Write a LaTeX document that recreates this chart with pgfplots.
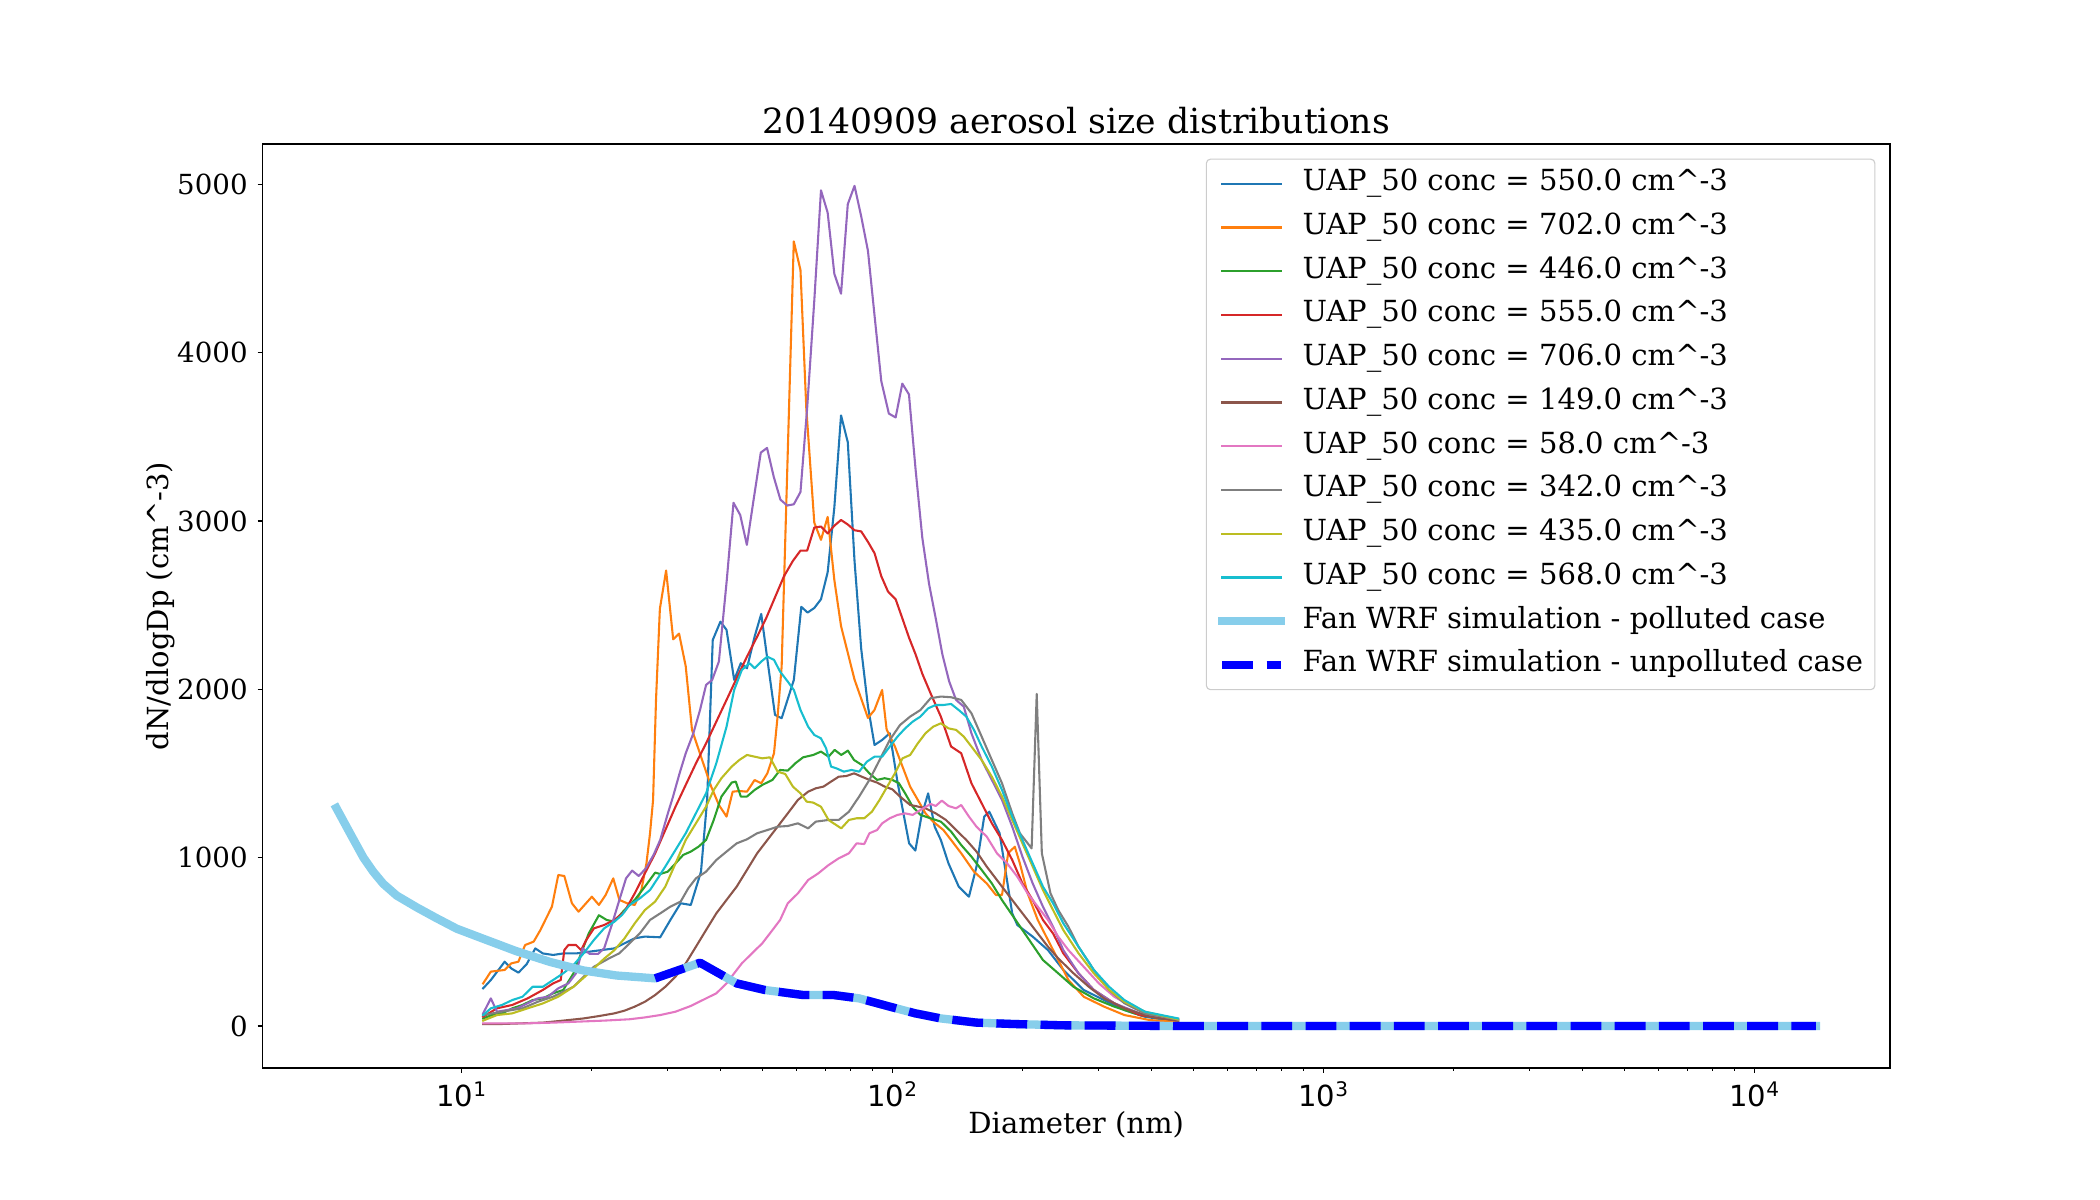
\documentclass[border=0pt]{standalone}
\usepackage{fontspec}
\setmainfont{DejaVu Serif}
\newfontfamily\dvsans{DejaVu Sans}
\usepackage{pgfplots}
\pgfplotsset{compat=1.18}
\definecolor{c0}{HTML}{1F77B4}
\definecolor{c1}{HTML}{FF7F0E}
\definecolor{c2}{HTML}{2CA02C}
\definecolor{c3}{HTML}{D62728}
\definecolor{c4}{HTML}{9467BD}
\definecolor{c5}{HTML}{8C564B}
\definecolor{c6}{HTML}{E377C2}
\definecolor{c7}{HTML}{7F7F7F}
\definecolor{c8}{HTML}{BCBD22}
\definecolor{c9}{HTML}{17BECF}
\definecolor{skyb}{HTML}{87CEEB}
\pgfplotsset{legend image code/.code={\path[draw=none] (-3bp,0bp) (57.8bp,0bp); \draw[#1] (0bp,0bp) -- (42bp,0bp);}}
\newcommand{\dec}[1]{10\raisebox{7bp}{\fontsize{14.5}{15}\selectfont #1}}
\begin{document}
\begin{tikzpicture}
\useasboundingbox (0,0) rectangle (1512bp,864bp);
\begin{axis}[
  at={(189bp,95.04bp)}, anchor=south west,
  scale only axis, width=1171.8bp, height=665.28bp,
  xmode=log, xmin=3.458, xmax=20640, ymin=-249.5, ymax=5239.5,
  axis line style={line width=0.8bp},
  tick align=outside, tick pos=left,
  major tick length=3.5bp, minor tick length=2bp,
  tick style={black, line width=0.8bp},
  minor tick style={line width=0.6bp},
  xtick={10,100,1000,10000},
  xticklabels={\dec{1},\dec{2},\dec{3},\dec{4}},
  xticklabel style={font=\dvsans\fontsize{21}{24}\selectfont, inner sep=0pt, anchor=base, yshift=-24.3bp},
  ytick={0,1000,2000,3000,4000,5000},
  scaled y ticks=false,
  yticklabel style={font=\fontsize{20}{24}\selectfont, inner sep=0pt, anchor=east, xshift=-7bp, /pgf/number format/1000 sep={}, /pgf/number format/assume math mode=true},
  every axis title shift=0pt,
  title={20140909 aerosol size distributions},
  title style={font=\fontsize{25}{28}\selectfont, inner sep=0pt, at={(axis description cs:0.5,1.01082)}, anchor=base},
  xlabel={Diameter (nm)},
  xlabel style={font=\fontsize{21}{24}\selectfont, inner sep=0pt, at={(axis description cs:0.5,-0.0711)}, anchor=base},
  ylabel={dN/dlogDp (cm\textasciicircum-3)},
  ylabel style={font=\fontsize{21}{24}\selectfont, inner sep=0pt, at={(axis description cs:-0.05393,0.5)}, anchor=south, rotate=0},
  legend cell align=left,
  legend style={at={(axis description cs:1,1)}, anchor=north east, xshift=-10.5bp, yshift=-10.5bp,
    draw=black!20, line width=0.8bp, rounded corners=3bp, fill=white, fill opacity=0.8, text opacity=1,
    font=\fontsize{21}{24}\selectfont, inner xsep=8.5bp, inner ysep=7.25bp, row sep=10.5bp,
    nodes={inner sep=0pt, text height=15.5bp, text depth=5.5bp}},
  every axis plot/.append style={line width=1.5bp, line join=round, line cap=rect},
]
% C0 blue 550
\addplot[c0] coordinates {(11.24,224)(11.71,273)(12.61,382)(13.06,342)(13.57,317)(14.17,366)(14.85,461)(15.46,431)(16.33,422)(17.24,431)(18.46,431)(19.76,441)(21.15,451)(22.65,461)(23.91,491)(25.26,521)(26.67,531)(28.94,527)(30.56,630)(32.28,729)(34.08,719)(35.99,917)(37.19,1343)(38.32,2293)(39.93,2402)(41.25,2353)(42.96,2056)(44.51,2155)(46.00,2125)(47.92,2313)(49.65,2448)(51.57,2135)(53.44,1848)(55.37,1828)(59.10,2056)(61.5,2490)(63.6,2456)(65.92,2483)(68.32,2535)(70.80,2695)(73.38,3081)(76.05,3627)(78.84,3468)(81.72,2763)(84.70,2240)(87.80,1899)(90.94,1669)(94.7,1699)(98.65,1739)(102.8,1450)(109.4,1085)(113.1,1042)(116.8,1244)(121.1,1382)(125.4,1184)(129.6,1105)(135.0,966)(142.6,828)(150.6,768)(156.8,947)(163.4,1244)(167.9,1273)(177.4,1145)(189.8,669)(195.0,600)(211.7,531)(229.7,451)(249.3,333)(278.0,214)(310.0,154)(345.6,95)(385.5,55)(460.3,25)};
\addlegendentry{UAP\_50 conc = 550.0 cm\textasciicircum-3}
% C1 orange 702
\addplot[c1] coordinates {(11.24,253)(11.71,323)(12.61,333)(13.06,372)(13.57,382)(14.06,481)(14.72,501)(15.26,570)(15.67,630)(16.23,709)(16.79,897)(17.34,891)(18.06,729)(18.71,679)(20.09,768)(20.86,719)(21.62,778)(22.52,877)(23.27,749)(24.25,729)(25.26,719)(26.17,808)(26.89,966)(27.41,1145)(27.86,1343)(28.30,1937)(28.89,2478)(29.87,2706)(31.02,2297)(32.01,2331)(33.17,2137)(34.30,1760)(35.99,1600)(38.01,1422)(39.60,1313)(41.25,1244)(42.62,1392)(44.16,1396)(46.00,1392)(47.92,1461)(49.65,1442)(51.30,1501)(53.15,1620)(54.18,1838)(55.37,2135)(59.08,4661)(61.23,4491)(63.16,3672)(65.92,2990)(68.32,2888)(70.80,3024)(73.38,2649)(76.05,2376)(81.72,2058)(87.80,1830)(90.9,1877)(94.7,1996)(97.0,1762)(101.4,1660)(105.6,1541)(110.0,1422)(114.6,1343)(119.4,1263)(124.4,1214)(131.4,1164)(136.9,1105)(144.5,1026)(154.7,917)(165.6,847)(174.0,778)(179.7,778)(185.7,1026)(192.4,1065)(197.7,966)(206.0,788)(217.5,630)(229.7,511)(242.6,392)(256.2,273)(278,174)(310,115)(345.6,65)(396.1,35)(460.3,25)};
\addlegendentry{UAP\_50 conc = 702.0 cm\textasciicircum-3}
% C2 green 446
\addplot[c2] coordinates {(11.24,45)(11.77,65)(12.43,75)(13.13,105)(13.87,125)(14.64,154)(15.46,164)(16.33,194)(17.24,214)(18.21,313)(19.76,550)(20.86,658)(21.74,630)(22.65,620)(23.91,689)(25.26,749)(26.67,828)(28.17,911)(28.94,903)(30.15,917)(31.41,966)(32.72,1016)(34.08,1036)(35.51,1065)(36.98,1105)(38.53,1224)(40.14,1363)(42.40,1446)(43.33,1452)(44.52,1363)(46.00,1363)(47.92,1402)(49.92,1432)(52.72,1462)(54.92,1521)(57.21,1517)(59.60,1561)(62.09,1596)(65.55,1610)(68.30,1630)(71.14,1600)(73.50,1640)(76.14,1610)(78.89,1636)(81.53,1580)(84.95,1551)(88.49,1501)(92.18,1462)(96.01,1472)(100.0,1462)(103.6,1442)(107.1,1382)(111.5,1303)(116.2,1254)(122.7,1234)(129.6,1214)(136.9,1155)(144.5,1075)(152.6,1006)(161.2,927)(170.2,847)(179.7,748)(189.8,659)(200.4,570)(211.7,481)(223.6,392)(242.6,313)(263.3,233)(293.5,164)(327.3,115)(375.1,65)(460.3,32)};
\addlegendentry{UAP\_50 conc = 446.0 cm\textasciicircum-3}
% C3 red 555
\addplot[c3] coordinates {(11.24,55)(12.10,105)(13.13,125)(14.25,164)(15.46,214)(16.33,253)(17.01,273)(17.34,451)(17.72,481)(18.46,481)(18.97,451)(19.50,511)(20.31,580)(21.45,600)(22.65,630)(23.91,679)(25.26,788)(26.67,907)(28.17,1026)(29.74,1164)(31.41,1303)(33.17,1432)(35.03,1560)(36.98,1679)(39.06,1808)(41.25,1937)(43.55,2066)(46.00,2194)(48.58,2313)(50.96,2422)(53.45,2547)(56.07,2672)(58.80,2763)(61.23,2824)(63.46,2824)(65.92,2961)(68.32,2967)(70.80,2926)(73.38,2972)(76.05,3006)(78.84,2979)(81.72,2945)(84.70,2938)(87.80,2876)(90.97,2808)(94.28,2672)(97.72,2581)(101.8,2535)(105.5,2422)(109.3,2308)(113.3,2206)(117.4,2092)(122.7,1976)(129.6,1838)(136.9,1660)(144.5,1620)(152.6,1442)(161.2,1323)(170.2,1204)(179.7,1105)(189.8,986)(200.4,847)(211.7,748)(223.6,630)(236.0,550)(249.3,432)(270.4,313)(293.5,214)(327.3,135)(375.1,65)(460.3,32)};
\addlegendentry{UAP\_50 conc = 555.0 cm\textasciicircum-3}
% C4 purple 706
\addplot[c4] coordinates {(11.24,75)(11.71,164)(12.10,85)(12.78,95)(13.49,105)(14.25,135)(15.05,164)(15.89,174)(16.79,224)(17.72,253)(18.46,313)(19.13,461)(19.87,428)(20.76,428)(21.45,461)(22.34,600)(23.27,749)(24.11,877)(24.91,923)(25.81,891)(26.82,937)(27.93,1016)(28.94,1105)(30.15,1263)(30.98,1361)(32.10,1501)(33.17,1620)(34.55,1739)(35.80,1877)(36.98,2026)(38.21,2056)(39.60,2165)(41.30,2649)(42.81,3108)(44.37,3036)(45.98,2858)(47.67,3127)(49.53,3406)(51.21,3434)(53.07,3263)(55.00,3127)(57.01,3092)(59.08,3099)(61.23,3172)(63.46,3672)(65.92,4309)(68.32,4964)(70.80,4832)(73.38,4468)(76.05,4350)(78.84,4882)(81.72,4991)(84.70,4809)(87.80,4605)(90.97,4218)(94.28,3831)(98.17,3638)(101.8,3615)(105.5,3816)(109.3,3752)(113.3,3300)(117.4,2899)(121.7,2626)(126.1,2422)(130.7,2206)(135.5,2047)(140.6,1937)(146.5,1897)(152.6,1739)(161.2,1580)(170.2,1462)(179.7,1343)(189.8,1184)(200.4,1006)(211.7,847)(223.6,709)(236.0,590)(249.3,451)(270.4,313)(293.5,214)(327.3,135)(375.1,75)(460.3,39)};
\addlegendentry{UAP\_50 conc = 706.0 cm\textasciicircum-3}
% C5 brown 149
\addplot[c5] coordinates {(11.24,12)(12.43,12)(13.87,16)(15.46,20)(17.24,32)(19.23,45)(20.86,59)(22.65,75)(23.91,91)(25.26,115)(26.67,144)(28.17,184)(29.74,233)(31.41,293)(33.17,372)(35.03,471)(36.98,570)(39.06,669)(41.25,749)(43.55,828)(46.00,927)(48.58,1026)(51.30,1105)(54.18,1184)(57.21,1263)(60.40,1343)(63.79,1392)(66.45,1412)(69.22,1422)(72.11,1452)(75.12,1481)(78.26,1485)(81.53,1501)(84.95,1481)(88.49,1462)(92.18,1446)(96.01,1422)(100.0,1406)(104.2,1363)(110.0,1313)(113.1,1307)(119.4,1293)(126.1,1263)(133.2,1224)(140.6,1164)(148.5,1105)(156.8,1036)(165.6,947)(174.9,867)(184.7,788)(195.0,709)(206.0,630)(217.5,550)(229.7,471)(242.6,402)(263.3,313)(285.7,233)(310.0,164)(345.6,105)(396.1,55)(460.3,32)};
\addlegendentry{UAP\_50 conc = 149.0 cm\textasciicircum-3}
% C6 pink 58
\addplot[c6] coordinates {(11.24,16)(14.25,16)(16.33,20)(18.71,26)(21.45,32)(24.57,40)(26.67,51)(28.94,65)(31.41,85)(34.08,119)(36.98,164)(39.06,194)(41.25,253)(42.96,313)(44.76,372)(47.27,432)(49.92,491)(52.72,570)(54.92,630)(57.21,729)(60.40,788)(63.79,867)(67.36,907)(71.14,956)(75.12,996)(79.32,1026)(82.64,1085)(86.09,1081)(88.49,1145)(92.18,1164)(94.72,1204)(98.65,1234)(102.8,1254)(107.1,1263)(111.5,1254)(116.2,1283)(122.7,1319)(126.1,1307)(130.3,1339)(135.0,1307)(140.6,1293)(144.5,1313)(150.6,1244)(156.8,1184)(165.6,1125)(174.9,1026)(184.7,966)(195.0,887)(206.0,788)(217.5,709)(229.7,630)(242.6,531)(256.2,451)(278.0,352)(301.6,253)(327.3,174)(365.0,105)(407.1,65)(460.3,39)};
\addlegendentry{UAP\_50 conc = 58.0 cm\textasciicircum-3}
% C7 gray 342
\addplot[c7] coordinates {(11.24,65)(12.43,85)(13.87,105)(15.05,144)(16.33,174)(18.21,233)(20.31,352)(22.03,402)(23.27,432)(24.57,491)(25.95,550)(27.41,630)(28.94,669)(30.56,709)(32.28,739)(33.62,818)(35.03,877)(36.98,917)(39.06,986)(41.25,1036)(43.55,1085)(46.00,1109)(48.58,1145)(51.30,1164)(54.18,1184)(57.21,1188)(60.40,1204)(63.79,1174)(66.45,1214)(71.14,1224)(75.12,1224)(79.32,1273)(83.77,1363)(88.49,1462)(93.43,1580)(98.65,1699)(104.2,1788)(110.0,1838)(116.2,1877)(122.7,1947)(129.6,1957)(136.9,1953)(144.5,1937)(152.6,1858)(161.2,1719)(170.2,1580)(179.7,1442)(189.8,1263)(197.7,1145)(210.5,1055)(216.3,1973)(222.3,1026)(232.8,788)(242.6,689)(256.2,590)(270.4,471)(293.5,333)(318.5,214)(345.6,135)(385.5,75)(460.3,39)};
\addlegendentry{UAP\_50 conc = 342.0 cm\textasciicircum-3}
% C8 olive 435
\addplot[c8] coordinates {(11.24,32)(12.10,65)(13.13,75)(14.25,105)(15.46,134)(16.79,174)(18.21,233)(19.76,313)(21.45,400)(22.65,450)(23.91,520)(25.26,610)(26.67,689)(28.17,739)(29.74,828)(31.41,966)(33.17,1105)(35.03,1204)(36.98,1303)(38.53,1402)(40.14,1472)(42.40,1541)(44.16,1580)(46.00,1610)(47.92,1600)(49.92,1590)(52.00,1596)(54.18,1511)(56.45,1497)(58.80,1422)(61.24,1382)(63.27,1333)(65.55,1327)(68.30,1303)(71.14,1224)(73.08,1204)(76.14,1174)(79.32,1224)(82.64,1234)(86.09,1234)(89.67,1273)(93.43,1343)(97.32,1422)(101.4,1501)(105.6,1590)(110.0,1610)(114.6,1679)(119.4,1739)(124.4,1778)(129.6,1798)(135.0,1768)(140.6,1759)(146.5,1719)(152.6,1660)(161.2,1580)(170.2,1481)(179.7,1363)(189.8,1224)(200.4,1085)(211.7,947)(223.6,808)(236.0,689)(249.3,570)(270.4,432)(293.5,313)(318.5,214)(345.6,144)(385.5,85)(460.3,39)};
\addlegendentry{UAP\_50 conc = 435.0 cm\textasciicircum-3}
% C9 cyan 568
\addplot[c9] coordinates {(11.24,65)(11.71,105)(12.43,125)(13.13,154)(13.87,174)(14.64,233)(15.46,233)(16.33,273)(17.24,313)(18.21,362)(19.23,432)(20.31,511)(21.45,580)(22.65,620)(23.59,659)(24.57,719)(25.95,758)(27.41,808)(28.56,877)(29.74,947)(31.41,1046)(33.17,1145)(35.03,1264)(36.98,1382)(39.06,1561)(41.25,1778)(42.96,1996)(44.76,2115)(46.63,2155)(47.92,2125)(49.65,2165)(51.30,2194)(53.15,2175)(54.92,2105)(57.21,2046)(59.10,1996)(61.24,1877)(63.79,1778)(65.92,1729)(68.30,1709)(70.20,1650)(72.11,1541)(74.12,1531)(77.21,1511)(80.43,1521)(83.77,1511)(87.29,1570)(90.94,1600)(94.72,1600)(98.65,1660)(102.8,1719)(107.1,1768)(111.5,1808)(116.2,1838)(121.1,1887)(126.1,1907)(131.4,1907)(136.9,1913)(142.6,1877)(148.5,1838)(154.7,1759)(161.2,1660)(170.2,1541)(179.7,1402)(189.8,1244)(200.4,1105)(211.7,966)(223.6,828)(236.0,729)(249.3,610)(270.4,471)(293.5,333)(318.5,233)(345.6,154)(385.5,85)(460.3,45)};
\addlegendentry{UAP\_50 conc = 568.0 cm\textasciicircum-3}
% WRF polluted
\addplot[skyb, line width=6bp] coordinates {(5.13,1295)(5.52,1145)(5.93,1000)(6.25,916)(6.59,845)(7.08,775)(7.88,705)(8.77,640)(9.76,578)(11.2,520)(13.4,445)(16.1,380)(19.2,330)(22.9,300)(28.17,283)(35.80,376)(43.55,253)(50.6,214)(62.09,184)(73.1,184)(83.8,164)(98.65,115)(113.1,75)(129.6,45)(156.8,20)(189.8,12)(249,4)(460,0)(13900,0)};
\addlegendentry{Fan WRF simulation - polluted case}
% WRF unpolluted
\addplot[blue, line width=6bp, line cap=butt, dash pattern=on 22.2bp off 9.6bp] coordinates {(28.17,283)(35.80,376)(43.55,253)(50.6,214)(62.09,184)(73.1,184)(83.8,164)(98.65,115)(113.1,75)(129.6,45)(156.8,20)(189.8,12)(249,4)(460,0)(13900,0)};
\addlegendentry{Fan WRF simulation - unpolluted case}
\end{axis}
\end{tikzpicture}
\end{document}
